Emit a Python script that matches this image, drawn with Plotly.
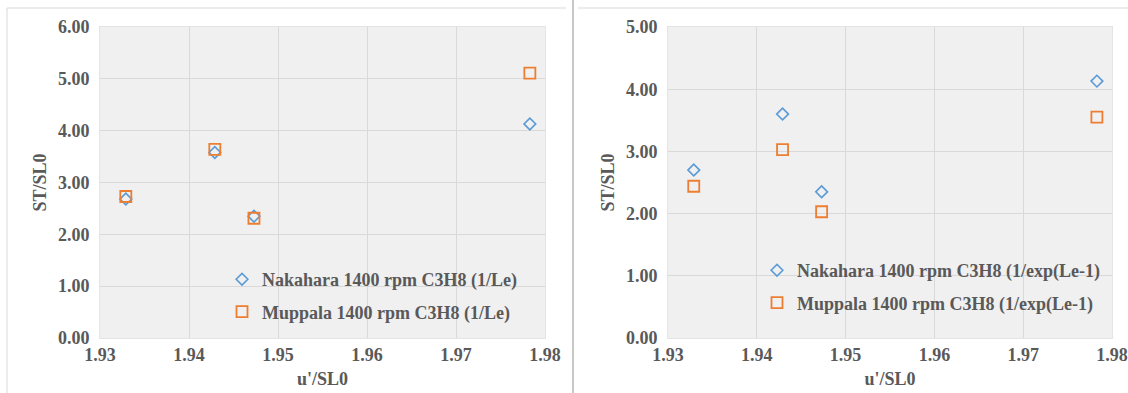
import plotly.graph_objects as go
from plotly.subplots import make_subplots

W, H = 1128, 393

x_vals = [1.9329, 1.9429, 1.9473, 1.9783]

nak_le = [2.68, 3.58, 2.35, 4.13]
mup_le = [2.73, 3.64, 2.31, 5.11]

nak_exp = [2.70, 3.60, 2.35, 4.13]
mup_exp = [2.44, 3.03, 2.03, 3.55]

x_ticks = [1.93, 1.94, 1.95, 1.96, 1.97, 1.98]
y_ticks_left = [0, 1, 2, 3, 4, 5, 6]
y_ticks_right = [0, 1, 2, 3, 4, 5]

names_left = ["Nakahara 1400 rpm C3H8 (1/Le)", "Muppala 1400 rpm C3H8 (1/Le)"]
names_right = ["Nakahara 1400 rpm C3H8 (1/exp(Le-1)", "Muppala 1400 rpm C3H8 (1/exp(Le-1)"]

BLUE = "#5b9bd5"
ORANGE = "#ed7d31"
TXT = "#595959"
FONT = "Liberation Serif"

fig = make_subplots(rows=1, cols=2)

def add_series(col, nak, mup, names, legend):
    fig.add_trace(go.Scatter(x=x_vals, y=nak, mode="markers", name=names[0],
                             marker=dict(symbol="diamond-open", size=9, color=BLUE,
                                         line=dict(width=1.6, color=BLUE)),
                             legend=legend, legendgroup=legend + "a"), row=1, col=col)
    fig.add_trace(go.Scatter(x=x_vals, y=mup, mode="markers", name=names[1],
                             marker=dict(symbol="square-open", size=11, color=ORANGE,
                                         line=dict(width=1.8, color=ORANGE)),
                             legend=legend, legendgroup=legend + "b"), row=1, col=col)

add_series(1, nak_le, mup_le, names_left, "legend")
add_series(2, nak_exp, mup_exp, names_right, "legend2")

def px_x(p):
    return p / W

def px_y(p):
    return 1 - p / H

axis_common = dict(showgrid=True, gridcolor="#d9d9d9", gridwidth=1,
                   showline=True, linecolor="#e4e4e4", mirror=True,
                   zeroline=False, ticks="", automargin=False,
                   ticklabeloverflow="allow",
                   tickfont=dict(family=FONT, size=18, color=TXT, weight="bold"),
                   title_font=dict(family=FONT, size=18, color=TXT, weight="bold"))

ydom = [px_y(338), px_y(27)]
legend_font = dict(family=FONT, size=18, color=TXT, weight="bold")

fig.update_layout(
    width=W, height=H,
    margin=dict(l=0, r=0, t=0, b=0),
    paper_bgcolor="white",
    plot_bgcolor="#f0f0f0",
    showlegend=True,
    xaxis=dict(domain=[px_x(100), px_x(545)], range=[1.93, 1.98], tickvals=x_ticks,
               ticktext=[f"{v:.2f}" for v in x_ticks],
               title=dict(text="u'/SL0", standoff=8), **axis_common),
    yaxis=dict(domain=ydom, range=[0, 6], tickvals=y_ticks_left,
               ticktext=[f"{v:.2f}" for v in y_ticks_left], ticklabelstandoff=6,
               title=dict(text="ST/SL0", standoff=6), **axis_common),
    xaxis2=dict(domain=[px_x(668), px_x(1112)], range=[1.93, 1.98], tickvals=x_ticks,
                ticktext=[f"{v:.2f}" for v in x_ticks],
                title=dict(text="u'/SL0", standoff=8), **axis_common),
    yaxis2=dict(domain=ydom, range=[0, 5], tickvals=y_ticks_right,
                ticktext=[f"{v:.2f}" for v in y_ticks_right], ticklabelstandoff=6,
                title=dict(text="ST/SL0", standoff=6), **axis_common),
    legend=dict(x=px_x(222), y=px_y(261), xanchor="left", yanchor="top",
                bgcolor="rgba(0,0,0,0)", font=legend_font,
                traceorder="grouped", tracegroupgap=6, itemwidth=30),
    legend2=dict(x=px_x(757), y=px_y(252), xanchor="left", yanchor="top",
                 bgcolor="rgba(0,0,0,0)", font=legend_font,
                 traceorder="grouped", tracegroupgap=6, itemwidth=30),
    font=dict(family=FONT, color=TXT),
)

# Panel borders and divider
shapes = [
    dict(type="line", xref="paper", yref="paper", x0=px_x(7), x1=px_x(7), y0=0, y1=px_y(8),
         line=dict(color="#d9d9d9", width=1)),
    dict(type="line", xref="paper", yref="paper", x0=px_x(7), x1=px_x(566), y0=px_y(8), y1=px_y(8),
         line=dict(color="#d9d9d9", width=1)),
    dict(type="line", xref="paper", yref="paper", x0=px_x(573), x1=px_x(573), y0=0, y1=1,
         line=dict(color="#c8c8c8", width=2)),
    dict(type="line", xref="paper", yref="paper", x0=px_x(578), x1=1, y0=px_y(8), y1=px_y(8),
         line=dict(color="#d9d9d9", width=1)),
]
fig.update_layout(shapes=shapes)

fig.write_html("out.html")
